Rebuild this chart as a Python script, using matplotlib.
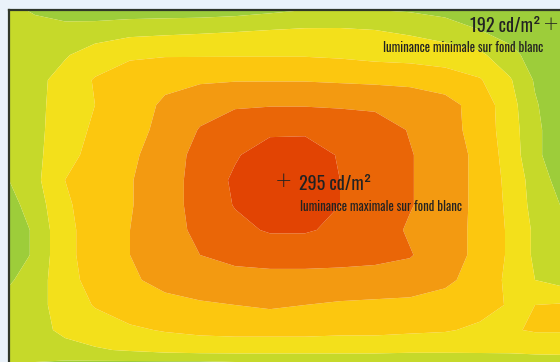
import numpy as np
import matplotlib
matplotlib.use("Agg")
import matplotlib.pyplot as plt

# =========================
# measured luminance grid (cd/m2), screen pixel positions
# =========================
X_POS = [9, 35, 65, 95, 130, 165, 200, 235, 270, 305, 340, 375, 410, 445, 480, 510, 535, 560]
Y_POS = [10, 30, 55, 80, 105, 130, 155, 180, 205, 230, 255, 280, 305, 330, 350, 362]

LUM = [
    [202, 199, 196, 195, 195, 195, 195, 196, 198, 200, 201, 200, 199, 197, 195, 193, 192, 192],
    [202, 203, 203, 204, 206, 207, 208, 209, 210, 211, 211, 210, 208, 205, 200, 196, 193, 192],
    [203, 205, 209, 215, 220, 221, 221, 221, 221, 221, 220, 218, 217, 215, 212, 203, 196, 193],
    [203, 207, 214, 223, 229, 233, 234, 235, 235, 235, 234, 233, 232, 229, 223, 211, 199, 194],
    [202, 207, 215, 222, 230, 238, 246, 250, 251, 251, 250, 249, 246, 241, 230, 214, 201, 194],
    [201, 207, 216, 224, 231, 240, 253, 262, 266, 266, 264, 260, 251, 242, 230, 215, 202, 195],
    [201, 207, 218, 226, 233, 244, 257, 268, 280, 282, 268, 262, 253, 244, 232, 216, 202, 195],
    [200, 207, 222, 229, 235, 245, 258, 273, 285, 295, 270, 262, 253, 244, 232, 218, 205, 197],
    [197, 204, 220, 228, 235, 245, 258, 271, 283, 285, 270, 262, 253, 244, 232, 219, 206, 200],
    [196, 201, 219, 227, 236, 245, 256, 265, 272, 272, 266, 260, 250, 243, 232, 220, 208, 203],
    [196, 201, 219, 227, 236, 244, 252, 256, 257, 257, 257, 256, 253, 243, 232, 220, 208, 204],
    [199, 204, 218, 226, 234, 240, 245, 247, 248, 248, 247, 246, 245, 239, 230, 219, 210, 206],
    [203, 207, 214, 223, 229, 232, 234, 236, 238, 236, 234, 233, 232, 230, 226, 221, 222, 223],
    [204, 207, 212, 215, 220, 223, 225, 226, 226, 226, 225, 225, 224, 223, 220, 221, 223, 223],
    [204, 205, 207, 209, 211, 213, 214, 214, 214, 214, 214, 214, 213, 213, 213, 213, 214, 214],
    [201, 200, 199, 199, 199, 199, 199, 200, 200, 200, 200, 200, 200, 200, 201, 202, 203, 204],
]

LEVELS = [185, 200, 210, 222, 236, 252, 270, 300]
BAND_COLORS = ["#9dcd3a", "#c6d92a", "#f3e01b", "#fcc70f", "#f39a11", "#ea6607", "#e24403"]

MAX_TXT = "295 cd/m²"
MIN_TXT = "192 cd/m²"
MAX_SUB = "luminance maximale sur fond blanc"
MIN_SUB = "luminance minimale sur fond blanc"

FONT = ["Oswald", "Roboto Condensed", "DejaVu Sans"]


def main():
    fig = plt.figure(figsize=(5.6, 3.62), dpi=100, facecolor="#eaf2fa")
    ax = fig.add_axes([9 / 560, 0, 551 / 560, 352 / 362])

    ax.contourf(np.array(X_POS), np.array(Y_POS), np.array(LUM),
                levels=LEVELS, colors=BAND_COLORS, antialiased=True)

    ax.set_xlim(9, 560)
    ax.set_ylim(362, 10)
    ax.set_xticks([])
    ax.set_yticks([])
    for side in ["right", "bottom"]:
        ax.spines[side].set_visible(False)
    for side in ["left", "top"]:
        ax.spines[side].set_color("#30372a")
        ax.spines[side].set_linewidth(1.6)

    txt = "#222222"
    # maximum
    ax.text(284, 181, "+", fontsize=15, color=txt, ha="center", va="center", family="DejaVu Sans",
            fontweight="light")
    ax.text(299, 190, MAX_TXT, fontsize=13, color=txt, ha="left", va="baseline", family=FONT)
    ax.text(300, 211, MAX_SUB, fontsize=9.2, color=txt, ha="left", va="baseline", family=FONT)
    # minimum
    ax.text(541, 32, MIN_TXT, fontsize=13, color=txt, ha="right", va="baseline", family=FONT)
    ax.text(551, 24, "+", fontsize=14, color=txt, ha="center", va="center", family="DejaVu Sans",
            fontweight="light")
    ax.text(543, 52, MIN_SUB, fontsize=9.2, color=txt, ha="right", va="baseline", family=FONT)

    fig.savefig("out.png", dpi=100, facecolor=fig.get_facecolor())
    plt.close(fig)


if __name__ == "__main__":
    main()
